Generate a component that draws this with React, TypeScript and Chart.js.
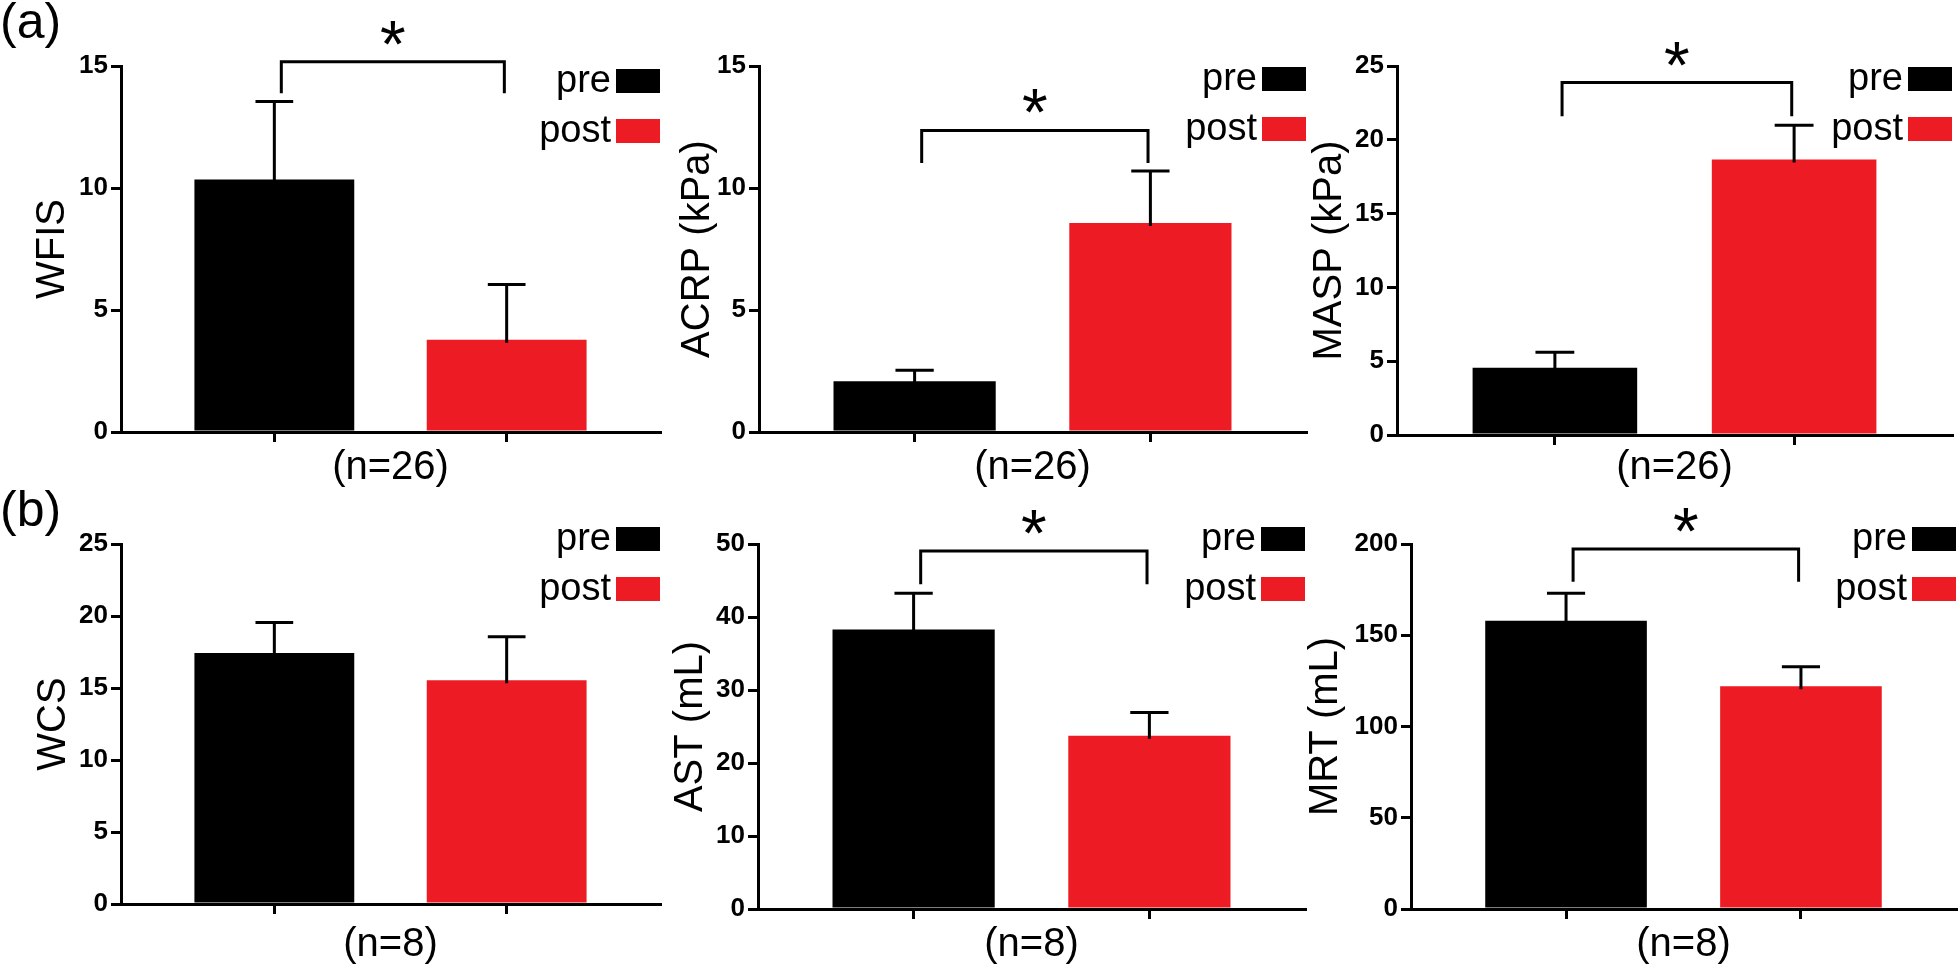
import React, { useEffect, useRef } from 'react';
import { Chart, registerables } from 'chart.js';

Chart.register(...registerables);

const FONT = '"Liberation Sans", Arial, Helvetica, sans-serif';

// ---------- data ----------
const groups = ['pre', 'post'];
const groupColors = ['#000000', '#ED1C24'];

const panelTitles = ['WFIS', 'ACRP (kPa)', 'MASP (kPa)', 'WCS', 'AST (mL)', 'MRT (mL)'];
const sampleLabels = ['(n=26)', '(n=26)', '(n=26)', '(n=8)', '(n=8)', '(n=8)'];
const preMeans = [10.35, 2.08, 4.56, 17.43, 38.3, 157.9];
const preErrors = [3.2, 0.45, 1.04, 2.11, 4.94, 15.1];
const postMeans = [3.78, 8.57, 18.66, 15.53, 23.72, 122.1];
const postErrors = [2.26, 2.13, 2.33, 3.03, 3.21, 10.6];
const yMaxes = [15, 15, 25, 25, 50, 200];
const ySteps = [5, 5, 5, 5, 10, 50];
const bracketTops = [15.17, 12.36, 23.88, null, 49.04, 197.3];
const bracketLegs = [13.88, 11.02, 21.6, null, 44.47, 179.3];
const significance = ['*', '*', '*', '', '*', '*'];
const panelLetters = ['(a)', '(b)'];

// ---------- layout (pixels) ----------
const LAYOUT = [
  { left: 0, top: 0, w: 680, h: 500, yAxisW: 121, padR: 20, padT: 66, xAxisH: 68, titleCx: 53, xTitlePad: 12, legendDy: 3 },
  { left: 650, top: 0, w: 680, h: 500, yAxisW: 109, padR: 24, padT: 66, xAxisH: 68, titleCx: 48, xTitlePad: 12, legendDy: 1 },
  { left: 1290, top: 0, w: 668, h: 500, yAxisW: 107, padR: 6, padT: 66, xAxisH: 65, titleCx: 39.5, xTitlePad: 12, legendDy: 1 },
  { left: 0, top: 480, w: 680, h: 486, yAxisW: 121, padR: 20, padT: 64, xAxisH: 62, titleCx: 53.5, xTitlePad: 1, legendDy: -17 },
  { left: 650, top: 480, w: 680, h: 486, yAxisW: 108, padR: 25, padT: 64, xAxisH: 57, titleCx: 40.5, xTitlePad: 1, legendDy: -17 },
  { left: 1290, top: 480, w: 668, h: 486, yAxisW: 121, padR: 2, padT: 64, xAxisH: 57, titleCx: 35.5, xTitlePad: 1, legendDy: -17 },
];

const LINE_W = 3;

function makePlugins(p: number, L: any) {
  const errorBars = {
    id: 'errorBars',
    afterDatasetsDraw(chart: any) {
      const { ctx } = chart;
      const yScale = chart.scales.y;
      ctx.save();
      ctx.strokeStyle = '#000';
      ctx.lineWidth = LINE_W;
      chart.data.datasets.forEach((ds: any, i: number) => {
        const meta = chart.getDatasetMeta(i);
        meta.data.forEach((bar: any, j: number) => {
          const v = ds.data[j].y;
          const e = ds.errors[j];
          const yTop = yScale.getPixelForValue(v + e);
          const cap = bar.width * 0.236;
          ctx.beginPath();
          ctx.moveTo(bar.x, bar.y + 3);
          ctx.lineTo(bar.x, yTop);
          ctx.moveTo(bar.x - cap / 2, yTop);
          ctx.lineTo(bar.x + cap / 2, yTop);
          ctx.stroke();
        });
      });
      ctx.restore();
    },
  };

  const bracket = {
    id: 'sigBracket',
    afterDatasetsDraw(chart: any) {
      const top = bracketTops[p];
      const leg = bracketLegs[p];
      if (top == null || leg == null) return;
      const { ctx } = chart;
      const xs = chart.scales.x;
      const ys = chart.scales.y;
      const x1 = xs.getPixelForValue(0.03);
      const x2 = xs.getPixelForValue(0.99);
      const yT = ys.getPixelForValue(top);
      const yL = ys.getPixelForValue(leg);
      ctx.save();
      ctx.strokeStyle = '#000';
      ctx.lineWidth = LINE_W;
      ctx.lineJoin = 'miter';
      ctx.beginPath();
      ctx.moveTo(x1, yL);
      ctx.lineTo(x1, yT);
      ctx.lineTo(x2, yT);
      ctx.lineTo(x2, yL);
      ctx.stroke();
      ctx.fillStyle = '#000';
      ctx.font = `66px ${FONT}`;
      ctx.textAlign = 'center';
      ctx.textBaseline = 'alphabetic';
      ctx.fillText(significance[p], (x1 + x2) / 2, yT + 5);
      ctx.restore();
    },
  };

  const legend = {
    id: 'rightLegend',
    afterDraw(chart: any) {
      const { ctx, chartArea } = chart;
      const boxW = 44;
      const boxH = 24;
      const pitch = 50;
      ctx.save();
      ctx.font = `38px ${FONT}`;
      ctx.textAlign = 'right';
      ctx.textBaseline = 'alphabetic';
      chart.data.datasets.forEach((ds: any, i: number) => {
        const top = chartArea.top + L.legendDy + i * pitch;
        const right = chartArea.right;
        ctx.fillStyle = ds.backgroundColor;
        ctx.fillRect(right - boxW, top, boxW, boxH);
        ctx.fillStyle = '#000';
        ctx.fillText(ds.label, right - boxW - 5, top + boxH - 1);
      });
      ctx.restore();
    },
  };
  return [errorBars, bracket, legend];
}

function Panel({ p }: { p: number }) {
  const ref = useRef<HTMLCanvasElement | null>(null);
  const L = LAYOUT[p];
  useEffect(() => {
    if (!ref.current) return;
    const means = [preMeans[p], postMeans[p]];
    const errs = [preErrors[p], postErrors[p]];
    const chart = new Chart(ref.current, {
      type: 'bar',
      data: {
        datasets: groups.map((g, gi) => ({
          label: g,
          data: [{ x: gi, y: means[gi] }],
          errors: [errs[gi]],
          backgroundColor: groupColors[gi],
          borderWidth: 0,
          grouped: false,
          barPercentage: 0.688,
          categoryPercentage: 1,
        })) as any,
      },
      options: {
        responsive: false,
        animation: false,
        devicePixelRatio: 1,
        layout: { padding: { top: L.padT, right: L.padR, left: 0, bottom: 0 } },
        plugins: { legend: { display: false }, tooltip: { enabled: false }, title: { display: false } },
        scales: {
          x: {
            type: 'linear',
            min: -0.66,
            max: 1.66,
            offset: false,
            afterBuildTicks: (s: any) => {
              s.ticks = [{ value: 0 }, { value: 1 }];
            },
            afterFit: (s: any) => {
              s.height = L.xAxisH;
            },
            ticks: { display: false },
            grid: {
              display: true,
              drawOnChartArea: false,
              drawTicks: true,
              tickLength: 10,
              tickWidth: LINE_W,
              tickColor: '#000',
              color: '#000',
              lineWidth: LINE_W,
              offset: false,
            },
            border: { display: true, color: '#000', width: LINE_W },
            title: {
              display: true,
              text: sampleLabels[p],
              color: '#000',
              font: { size: 40, family: FONT, lineHeight: 1 },
              padding: { top: 0, bottom: L.xTitlePad },
            },
          } as any,
          y: {
            type: 'linear',
            min: 0,
            max: yMaxes[p],
            afterFit: (s: any) => {
              s.width = L.yAxisW;
            },
            ticks: {
              stepSize: ySteps[p],
              color: '#000',
              padding: 3,
              font: { size: 26, weight: 'bold', family: FONT },
            },
            grid: {
              drawOnChartArea: false,
              drawTicks: true,
              tickLength: 10,
              tickWidth: LINE_W,
              tickColor: '#000',
              color: '#000',
              lineWidth: LINE_W,
            },
            border: { display: true, color: '#000', width: LINE_W },
            title: {
              display: true,
              text: panelTitles[p],
              color: '#000',
              font: { size: 40, family: FONT, lineHeight: 1 },
              padding: { top: L.titleCx - 20, bottom: 0 },
            },
          } as any,
        },
      },
      plugins: makePlugins(p, L),
    });
    return () => chart.destroy();
  }, [p]);
  return (
    <canvas
      ref={ref}
      width={L.w}
      height={L.h}
      style={{ position: 'absolute', left: L.left, top: L.top, width: L.w, height: L.h }}
    />
  );
}

export default function App() {
  return (
    <div
      style={{
        position: 'absolute',
        left: 0,
        top: 0,
        width: 1958,
        height: 966,
        background: '#fff',
        overflow: 'hidden',
        fontFamily: FONT,
      }}
    >
      {panelTitles.map((_, p) => (
        <Panel key={p} p={p} />
      ))}
      <div style={{ position: 'absolute', left: 0, top: -4, fontSize: 50, lineHeight: 1, color: '#000' }}>
        {panelLetters[0]}
      </div>
      <div style={{ position: 'absolute', left: 0, top: 484, fontSize: 50, lineHeight: 1, color: '#000' }}>
        {panelLetters[1]}
      </div>
    </div>
  );
}
